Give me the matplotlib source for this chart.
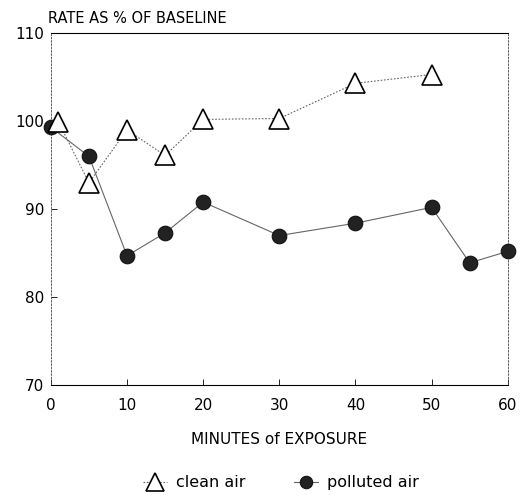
import matplotlib
matplotlib.use("Agg")
import matplotlib.pyplot as plt

# clean air (triangles)
clean_x = [1, 5, 10, 15, 20, 30, 40, 50]
clean_y = [99.9, 93.0, 99.0, 96.1, 100.2, 100.3, 104.3, 105.3]

# polluted air (filled circles)
poll_x = [0, 5, 10, 15, 20, 30, 40, 50, 55, 60]
poll_y = [99.3, 96.0, 84.7, 87.3, 90.8, 87.0, 88.4, 90.2, 83.9, 85.2]

x_ticks = [0, 10, 20, 30, 40, 50, 60]
y_ticks = [70, 80, 90, 100, 110]

plt.rcParams['font.family'] = ['DejaVu Sans']

fig = plt.figure(figsize=(5.3, 4.95), dpi=100)
ax = fig.add_axes([0.096, 0.222, 0.862, 0.711])

ax.plot(poll_x, poll_y, color='#666666', lw=0.8, ls='-',
        marker='o', ms=10.5, mfc='#222222', mec='#111111', mew=0.8,
        label='polluted air', zorder=3, clip_on=False)
ax.plot(clean_x, clean_y, color='#666666', lw=0.8, ls=(0, (1.5, 1.5)),
        marker='^', ms=15, mfc='white', mec='black', mew=1.2,
        label='clean air', zorder=4, clip_on=False)

ax.set_xlim(0, 60)
ax.set_ylim(70, 110)
ax.set_xticks(x_ticks)
ax.set_yticks(y_ticks)
ax.tick_params(direction='in', length=4, width=0.6, labelsize=11, pad=9)
ax.tick_params(axis='y', pad=5)

for side in ['left', 'right']:
    ax.spines[side].set_linestyle((0, (2, 2)))
    ax.spines[side].set_linewidth(0.6)
    ax.spines[side].set_color('#444444')
for side in ['top', 'bottom']:
    ax.spines[side].set_linewidth(0.8)

ax.set_xlabel('MINUTES of EXPOSURE', fontsize=11, labelpad=14)
fig.text(0.09, 0.962, 'RATE AS % OF BASELINE', fontsize=10.5, ha='left', va='center')

handles, labels = ax.get_legend_handles_labels()
fig.legend(handles[::-1], labels[::-1], loc='center', bbox_to_anchor=(0.53, 0.025),
           ncol=2, frameon=False, fontsize=11.5, handlelength=1.5,
           columnspacing=3.0, handletextpad=0.6, markerscale=0.85)

fig.savefig('out.png', dpi=100)
